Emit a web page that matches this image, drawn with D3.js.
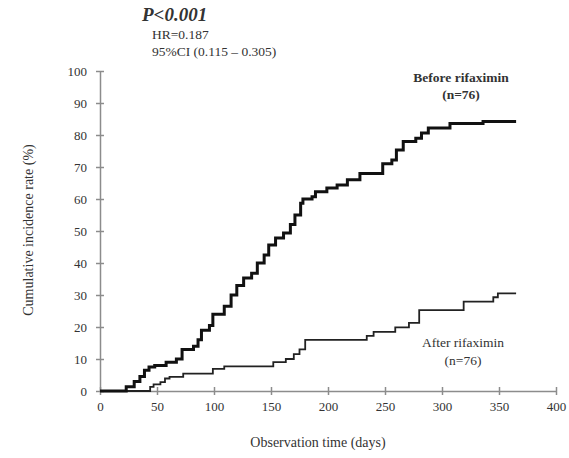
<!DOCTYPE html>
<html>
<head>
<meta charset="utf-8">
<script src="https://cdn.jsdelivr.net/npm/d3@7"></script>
<style>
  body { margin: 0; background: #fff; }
  text { font-family: "Liberation Serif", "DejaVu Serif", serif; fill: #333; }
</style>
</head>
<body>
<script>
// step data (days, cumulative %)
var beforeDays = [0, 23, 30, 35, 39, 43, 48, 58, 67, 72, 82, 86, 89, 96, 99, 109, 115, 120, 126, 133, 138, 144, 148, 154, 161, 167, 171, 176, 178, 186, 189, 199, 208, 217, 228, 248, 256, 260, 266, 277, 282, 288, 307, 336, 365];
var beforeRate = [0, 1.3, 3, 4.5, 6.5, 7.5, 8, 9, 10, 13, 14, 16, 19, 20.5, 24, 26.5, 30, 33, 35.3, 36.8, 40, 42.5, 45.6, 47.8, 49.4, 52, 55, 58.7, 60, 60.7, 62.3, 63.4, 64.4, 66, 68, 71, 72.2, 75.3, 78, 79, 80.6, 82.2, 83.6, 84.2, 84.2];

var afterDays = [0, 44, 47, 53, 57, 61, 73, 99, 109, 152, 163, 170, 175, 180, 234, 240, 259, 271, 280, 319, 345, 349, 365];
var afterRate = [0, 1.3, 2.1, 2.8, 3.9, 4.4, 5.4, 6.9, 7.7, 9, 10, 11.5, 13, 16, 17.2, 18.5, 19.9, 21.3, 25.3, 27.9, 29.3, 30.5, 30.5];

var xTicks = [0, 50, 100, 150, 200, 250, 300, 350, 400];
var yTicks = [0, 10, 20, 30, 40, 50, 60, 70, 80, 90, 100];

var width = 569, height = 458;

var x = d3.scaleLinear().domain([0, 400]).range([100, 556]);
var y = d3.scaleLinear().domain([0, 100]).range([391, 71]);

var svg = d3.select("body").append("svg")
    .attr("width", width)
    .attr("height", height);

// y axis with ticks crossing the line
var yAxis = svg.append("g")
    .attr("transform", "translate(" + x(0) + ",0)")
    .call(d3.axisLeft(y).tickValues(yTicks).tickSizeInner(4).tickSizeOuter(0).tickPadding(9));
yAxis.selectAll("line").attr("x2", 4).attr("x1", -4);

var xAxis = svg.append("g")
    .attr("transform", "translate(0," + y(0) + ")")
    .call(d3.axisBottom(x).tickValues(xTicks).tickSizeInner(4).tickSizeOuter(0).tickPadding(7));
xAxis.selectAll("line").attr("y1", -4).attr("y2", 4);

svg.selectAll(".domain, .tick line")
    .attr("stroke", "#8c8c8c")
    .attr("stroke-width", 1.5);
svg.selectAll(".tick text")
    .style("font-family", "Liberation Serif")
    .style("font-size", "13px")
    .attr("fill", "#333");

// step lines
var step = d3.line()
    .x(function(d) { return x(d[0]); })
    .y(function(d) { return y(d[1]); })
    .curve(d3.curveStepAfter);

svg.append("path")
    .datum(d3.zip(afterDays, afterRate))
    .attr("d", step)
    .attr("fill", "none")
    .attr("stroke", "#222")
    .attr("stroke-width", 1.8);

svg.append("path")
    .datum(d3.zip(beforeDays, beforeRate))
    .attr("d", step)
    .attr("fill", "none")
    .attr("stroke", "#111")
    .attr("stroke-width", 3);

// axis titles
svg.append("text")
    .attr("x", 318).attr("y", 447)
    .attr("text-anchor", "middle")
    .style("font-size", "14px")
    .text("Observation time (days)");

svg.append("text")
    .attr("transform", "translate(33,230) rotate(-90)")
    .attr("text-anchor", "middle")
    .style("font-size", "14px")
    .text("Cumulative incidence rate (%)");

// stats block
svg.append("text")
    .attr("x", 142).attr("y", 21)
    .style("font-size", "19px")
    .style("font-weight", "bold")
    .style("font-style", "italic")
    .attr("fill", "#111")
    .text("P<0.001");

svg.append("text")
    .attr("x", 152).attr("y", 39)
    .style("font-size", "13.5px")
    .text("HR=0.187");

svg.append("text")
    .attr("x", 152).attr("y", 56)
    .style("font-size", "13.5px")
    .text("95%CI (0.115 \u2013 0.305)");

// series labels
svg.append("text")
    .attr("x", 461).attr("y", 82)
    .attr("text-anchor", "middle")
    .style("font-size", "13.5px")
    .style("font-weight", "bold")
    .text("Before rifaximin");
svg.append("text")
    .attr("x", 461).attr("y", 99)
    .attr("text-anchor", "middle")
    .style("font-size", "13.5px")
    .style("font-weight", "bold")
    .text("(n=76)");

svg.append("text")
    .attr("x", 463).attr("y", 347)
    .attr("text-anchor", "middle")
    .style("font-size", "13.5px")
    .text("After rifaximin");
svg.append("text")
    .attr("x", 463).attr("y", 365)
    .attr("text-anchor", "middle")
    .style("font-size", "13.5px")
    .text("(n=76)");
</script>
</body>
</html>
